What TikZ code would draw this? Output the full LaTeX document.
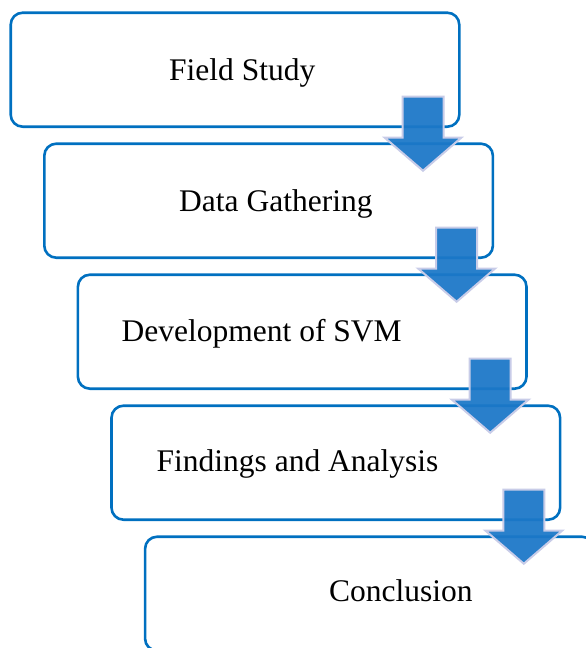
\documentclass[tikz,border=0pt]{standalone}
\usepackage{fontspec}
\setmainfont{Liberation Serif}
\definecolor{boxblue}{RGB}{0,112,192}
\definecolor{arrowblue}{RGB}{28,120,200}
\definecolor{arrowedge}{RGB}{200,204,232}
\tikzset{
  stepbox/.style={draw=boxblue, line width=2.6pt, rounded corners=12pt, minimum width=448.6pt, minimum height=114pt, inner sep=0pt, fill=white},
  label/.style={anchor=base west, inner sep=0pt, font=\fontsize{31.5}{36}\selectfont},
  blockarrow/.style={fill=arrowblue, fill opacity=0.94, draw=arrowedge, line width=2pt, line join=miter}
}
\newcommand{\downarrowshape}[2]{%
  \draw[blockarrow] (#1-20.5,#2) -- (#1+20.5,#2) -- (#1+20.5,#2+41) -- (#1+38.5,#2+41) -- (#1,#2+74.2) -- (#1-38.5,#2+41) -- (#1-20.5,#2+41) -- cycle;}
\begin{document}
\begin{tikzpicture}[x=1pt,y=-1pt]
\useasboundingbox (0,0) rectangle (586,648);
\clip (0,0) rectangle (586,648);
\node[stepbox] (b1) at (235,69.7) {};
\node[stepbox] (b2) at (268.6,200.7) {};
\node[stepbox] (b3) at (302.2,331.7) {};
\node[stepbox] (b4) at (335.8,462.7) {};
\node[stepbox] (b5) at (369.4,593.7) {};
\node[label] (t1) at (169,80) {Field Study};
\node[label] (t2) at (179,211) {Data Gathering};
\node[label] (t3) at (121.5,341) {Development of SVM};
\node[label] (t4) at (156.5,471) {Findings and Analysis};
\node[label] (t5) at (329,601) {Conclusion};
\downarrowshape{423}{96.5}
\downarrowshape{456.6}{227.5}
\downarrowshape{490.2}{358.5}
\downarrowshape{523.8}{489.5}
\end{tikzpicture}
\end{document}
